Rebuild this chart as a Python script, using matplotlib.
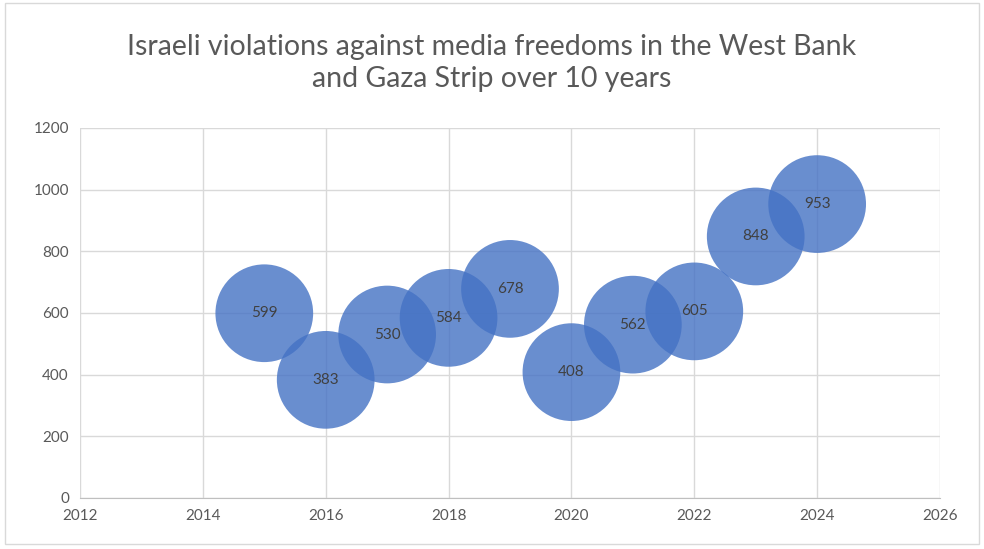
import matplotlib.pyplot as plt
from matplotlib.patches import Rectangle

plt.rcParams['font.family'] = ['Lato', 'DejaVu Sans']

# Data
years = [2015, 2016, 2017, 2018, 2019, 2020, 2021, 2022, 2023, 2024]
violations = [599, 383, 530, 584, 678, 408, 562, 605, 848, 953]
title = "Israeli violations against media freedoms in the West Bank\nand Gaza Strip over 10 years"

fig = plt.figure(figsize=(9.84, 5.49), dpi=100)
ax = fig.add_axes([0.0813, 0.093, 0.874, 0.674])

# outer chart border
fig.patches.append(Rectangle((0.005, 0.01), 0.99, 0.985, transform=fig.transFigure,
                             fill=False, edgecolor='#d9d9d9', linewidth=1))

ax.scatter(years, violations, s=4950, color='#4472C4', alpha=0.8,
           edgecolors='none', zorder=3)
for x, y in zip(years, violations):
    ax.text(x, y, str(y), ha='center', va='center', fontsize=11,
            color='#404040', zorder=4)

ax.set_xlim(2012, 2026)
ax.set_ylim(0, 1200)
ax.set_xticks(range(2012, 2027, 2))
ax.set_yticks(range(0, 1201, 200))
ax.grid(True, color='#d9d9d9', linewidth=1, zorder=0)
ax.set_axisbelow(True)
for side in ['top', 'right', 'left']:
    ax.spines[side].set_visible(False)
ax.spines['bottom'].set_color('#bfbfbf')
ax.tick_params(length=0, labelsize=11, labelcolor='#595959', pad=8)

fig.text(0.5, 0.885, title, ha='center', va='center', fontsize=20.5,
         color='#595959', linespacing=1.3)

fig.savefig('out.png', dpi=100)
